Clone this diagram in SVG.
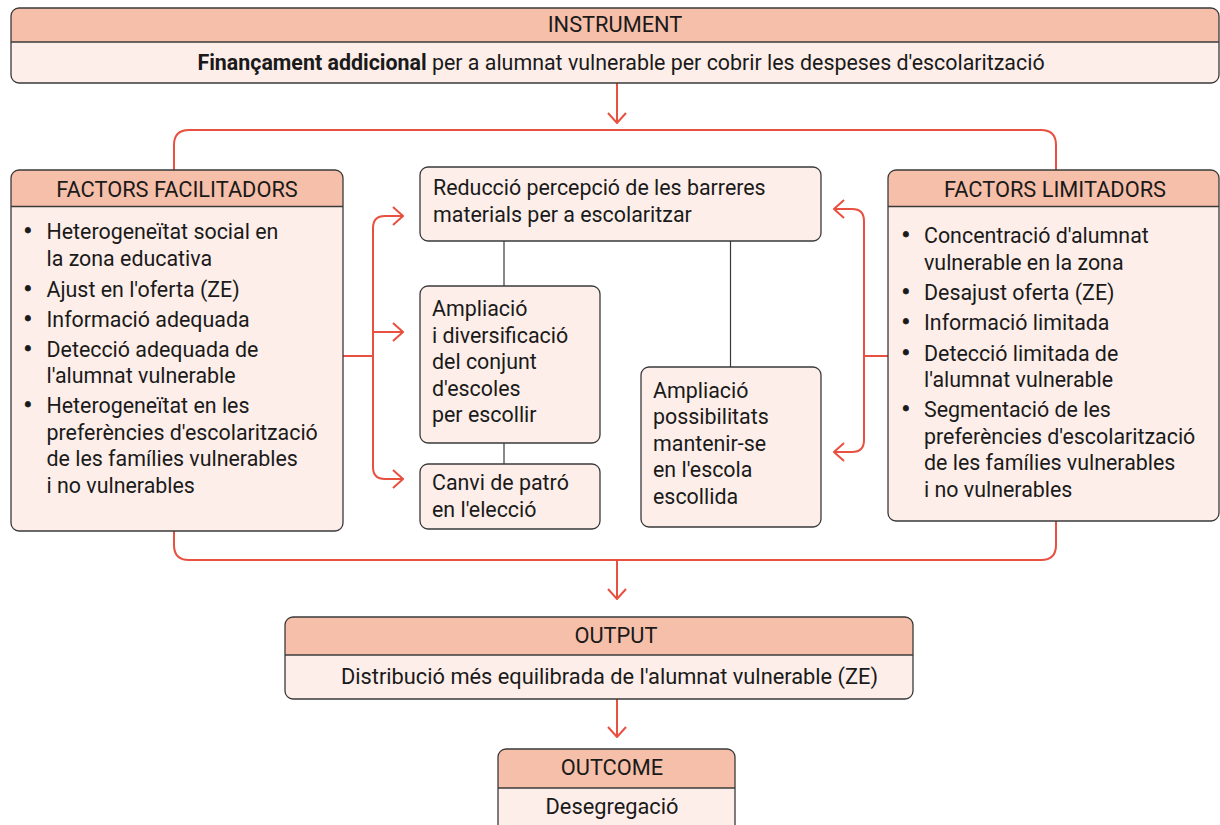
<svg xmlns="http://www.w3.org/2000/svg" width="1220" height="825" viewBox="0 0 1220 825">
<style>
text{font-family:Roboto,"Liberation Sans",sans-serif;font-size:21.4px;fill:#1a1a1a}
.c{text-anchor:middle}
.h{font-size:21.8px}
.b{font-weight:bold}
.bl{font-size:26px;text-anchor:middle;stroke:#1a1a1a;stroke-width:0.8}
.body{fill:#FDEEE9}
.head{fill:#F6BFA9}
.frame{fill:none;stroke:#3a3a3a;stroke-width:1.3}
.box{fill:#FDEEE9;stroke:#3a3a3a;stroke-width:1.3}
.div{stroke:#3a3a3a;stroke-width:1.3}
.red{fill:none;stroke:#E8503F;stroke-width:2}
.blk{fill:none;stroke:#3a3a3a;stroke-width:1.2}
</style>
<defs>
<marker id="ah" viewBox="0 0 12 20" refX="11" refY="10" markerWidth="12" markerHeight="20" markerUnits="userSpaceOnUse" orient="auto">
<path d="M1,1 L11,10 L1,19" fill="none" stroke="#E8503F" stroke-width="2"/>
</marker>
</defs>
<rect width="1220" height="825" fill="#fff"/>

<g id="connectors">
<line class="red" x1="617" y1="83" x2="617" y2="123" marker-end="url(#ah)"/>
<path class="red" d="M174,170 V145 Q174,130 189,130 H1041 Q1056,130 1056,145 V170"/>
<path class="red" d="M174,531 V545 Q174,560 189,560 H1041 Q1056,560 1056,545 V521"/>
<line class="red" x1="617" y1="560" x2="617" y2="599" marker-end="url(#ah)"/>
<line class="red" x1="617" y1="699" x2="617" y2="737" marker-end="url(#ah)"/>
<line class="red" x1="343" y1="356" x2="373" y2="356"/>
<path class="red" d="M403,216 H385 Q373,216 373,228 V467 Q373,479 385,479 H403"/>
<line class="red" x1="396" y1="216" x2="403" y2="216" marker-end="url(#ah)"/>
<line class="red" x1="396" y1="479" x2="403" y2="479" marker-end="url(#ah)"/>
<line class="red" x1="373" y1="332" x2="403" y2="332" marker-end="url(#ah)"/>
<line class="red" x1="888" y1="356" x2="864" y2="356"/>
<path class="red" d="M834,209 H852 Q864,209 864,221 V440 Q864,452 852,452 H834"/>
<line class="red" x1="841" y1="209" x2="834" y2="209" marker-end="url(#ah)"/>
<line class="red" x1="841" y1="452" x2="834" y2="452" marker-end="url(#ah)"/>
<line class="blk" x1="504" y1="241" x2="504" y2="286"/>
<line class="blk" x1="504" y1="443" x2="504" y2="464"/>
<line class="blk" x1="730.5" y1="241" x2="730.5" y2="367"/>
</g>

<g id="instrument">
<rect class="body" x="11" y="8" width="1208" height="75" rx="8"/>
<path class="head" d="M11,42 V16 A8,8 0 0 1 19,8 H1211 A8,8 0 0 1 1219,16 V42 Z"/>
<rect class="frame" x="11" y="8" width="1208" height="75" rx="8"/>
<line class="div" x1="11" y1="42" x2="1219" y2="42"/>
<text class="c h" x="615" y="32">INSTRUMENT</text>
<text class="c" x="621" y="70"><tspan class="b">Finançament addicional</tspan> per a alumnat vulnerable per cobrir les despeses d'escolarització</text>
</g>

<g id="facilitadors">
<rect class="body" x="11" y="170" width="332" height="361" rx="8"/>
<path class="head" d="M11,206.5 V178 A8,8 0 0 1 19,170 H335 A8,8 0 0 1 343,178 V206.5 Z"/>
<rect class="frame" x="11" y="170" width="332" height="361" rx="8"/>
<line class="div" x1="11" y1="206.5" x2="343" y2="206.5"/>
<text class="c h" x="177" y="196.5">FACTORS FACILITADORS</text>
<text y="239"><tspan class="bl" x="28" dy="1">•</tspan><tspan x="46.5" dy="-1">Heterogeneïtat social en</tspan></text>
<text x="46.5" y="265.5">la zona educativa</text>
<text y="296.5"><tspan class="bl" x="28" dy="1">•</tspan><tspan x="46.5" dy="-1">Ajust en l'oferta (ZE)</tspan></text>
<text y="326.5"><tspan class="bl" x="28" dy="1">•</tspan><tspan x="46.5" dy="-1">Informació adequada</tspan></text>
<text y="356.5"><tspan class="bl" x="28" dy="1">•</tspan><tspan x="46.5" dy="-1">Detecció adequada de</tspan></text>
<text x="46.5" y="383">l'alumnat vulnerable</text>
<text y="413"><tspan class="bl" x="28" dy="1">•</tspan><tspan x="46.5" dy="-1">Heterogeneïtat en les</tspan></text>
<text x="46.5" y="439.5">preferències d'escolarització</text>
<text x="46.5" y="466">de les famílies vulnerables</text>
<text x="46.5" y="492.5">i no vulnerables</text>
</g>

<g id="limitadors">
<rect class="body" x="888" y="170" width="331" height="351" rx="8"/>
<path class="head" d="M888,206.5 V178 A8,8 0 0 1 896,170 H1211 A8,8 0 0 1 1219,178 V206.5 Z"/>
<rect class="frame" x="888" y="170" width="331" height="351" rx="8"/>
<line class="div" x1="888" y1="206.5" x2="1219" y2="206.5"/>
<text class="c h" x="1055" y="196.5">FACTORS LIMITADORS</text>
<text y="243"><tspan class="bl" x="906" dy="1">•</tspan><tspan x="924" dy="-1">Concentració d'alumnat</tspan></text>
<text x="924" y="269.5">vulnerable en la zona</text>
<text y="300"><tspan class="bl" x="906" dy="1">•</tspan><tspan x="924" dy="-1">Desajust oferta (ZE)</tspan></text>
<text y="330"><tspan class="bl" x="906" dy="1">•</tspan><tspan x="924" dy="-1">Informació limitada</tspan></text>
<text y="360.5"><tspan class="bl" x="906" dy="1">•</tspan><tspan x="924" dy="-1">Detecció limitada de</tspan></text>
<text x="924" y="387">l'alumnat vulnerable</text>
<text y="417"><tspan class="bl" x="906" dy="1">•</tspan><tspan x="924" dy="-1">Segmentació de les</tspan></text>
<text x="924" y="443.5">preferències d'escolarització</text>
<text x="924" y="470">de les famílies vulnerables</text>
<text x="924" y="496.5">i no vulnerables</text>
</g>

<g id="reduccio">
<rect class="box" x="420" y="167" width="401" height="74" rx="8"/>
<text x="433" y="195">Reducció percepció de les barreres</text>
<text x="433" y="221.5">materials per a escolaritzar</text>
</g>

<g id="ampliacio">
<rect class="box" x="420" y="286" width="180" height="157" rx="8"/>
<text x="432" y="316">Ampliació</text>
<text x="432" y="342.5">i diversificació</text>
<text x="432" y="369">del conjunt</text>
<text x="432" y="395.5">d'escoles</text>
<text x="432" y="422">per escollir</text>
</g>

<g id="canvi">
<rect class="box" x="420" y="464" width="180" height="65" rx="8"/>
<text x="432" y="490">Canvi de patró</text>
<text x="432" y="516.5">en l'elecció</text>
</g>

<g id="possibilitats">
<rect class="box" x="641" y="367" width="180" height="160" rx="8"/>
<text x="653" y="397.5">Ampliació</text>
<text x="653" y="424">possibilitats</text>
<text x="653" y="450.5">mantenir-se</text>
<text x="653" y="477">en l'escola</text>
<text x="653" y="503.5">escollida</text>
</g>

<g id="output">
<rect class="body" x="285" y="617" width="628" height="82" rx="8"/>
<path class="head" d="M285,655 V625 A8,8 0 0 1 293,617 H905 A8,8 0 0 1 913,625 V655 Z"/>
<rect class="frame" x="285" y="617" width="628" height="82" rx="8"/>
<line class="div" x1="285" y1="655" x2="913" y2="655"/>
<text class="c h" x="616" y="643">OUTPUT</text>
<text class="c h" x="609.5" y="684">Distribució més equilibrada de l'alumnat vulnerable (ZE)</text>
</g>

<g id="outcome">
<rect class="body" x="498" y="749" width="237" height="100" rx="8"/>
<path class="head" d="M498,788 V757 A8,8 0 0 1 506,749 H727 A8,8 0 0 1 735,757 V788 Z"/>
<rect class="frame" x="498" y="749" width="237" height="100" rx="8"/>
<line class="div" x1="498" y1="788" x2="735" y2="788"/>
<text class="c h" x="612" y="775">OUTCOME</text>
<text class="c h" x="612" y="814">Desegregació</text>
</g>
</svg>
